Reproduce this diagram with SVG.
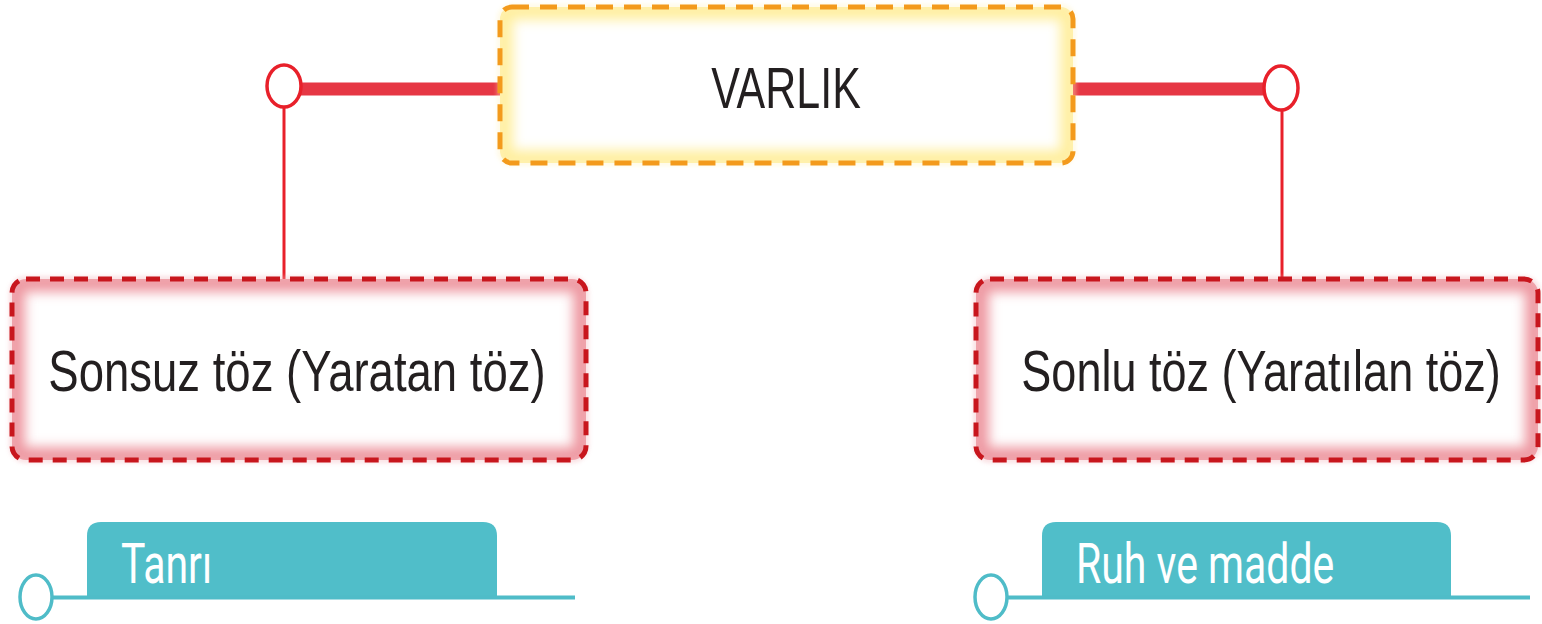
<svg xmlns="http://www.w3.org/2000/svg" width="1542" height="624" viewBox="0 0 1542 624">
  <style>
    .main-text { font-family: "Liberation Sans", Arial, sans-serif; fill: #231F20; }
    .tab-text { font-family: Roboto, "Noto Sans", sans-serif; fill: #FFFFFF; font-size: 41px; }
    .red-dash { fill: none; stroke: #C8161D; stroke-width: 5; stroke-dasharray: 14 10; }
    .orange-dash { fill: none; stroke: #F39A1C; stroke-width: 5; stroke-dasharray: 17 11; }
    .thick-bar { stroke: #E63744; stroke-width: 13; fill: none; }
    .thin-red { stroke: #E8202A; stroke-width: 3; fill: none; }
    .red-dot { fill: #FFFFFF; stroke: #E8202A; stroke-width: 3.5; }
    .teal-dot { fill: #FFFFFF; stroke: #4FBCC8; stroke-width: 3.5; }
    .teal-line { stroke: #4FBCC8; stroke-width: 4; fill: none; }
    .tab { fill: #50BEC9; }
  </style>
  <defs>
    <filter id="blur" x="-10%" y="-10%" width="120%" height="120%">
      <feGaussianBlur stdDeviation="6"/>
    </filter>
    <filter id="soft" x="-10%" y="-10%" width="120%" height="120%">
      <feGaussianBlur stdDeviation="2"/>
    </filter>
    <clipPath id="clipTop"><rect x="500" y="7" width="573" height="156" rx="12"/></clipPath>
    <clipPath id="clipLeft"><rect x="12" y="279" width="574" height="181" rx="14"/></clipPath>
    <clipPath id="clipRight"><rect x="976" y="279" width="562" height="181" rx="14"/></clipPath>
  </defs>

  <g id="connectors">
    <line class="thick-bar" x1="300" y1="89" x2="500" y2="89"/>
    <line class="thick-bar" x1="1073" y1="89" x2="1264" y2="89"/>
    <line class="thin-red" x1="284" y1="108" x2="284" y2="279"/>
    <line class="thin-red" x1="1282" y1="110" x2="1282" y2="279"/>
    <ellipse class="red-dot" cx="284" cy="86" rx="17" ry="21"/>
    <ellipse class="red-dot" cx="1281" cy="88" rx="17" ry="22"/>
  </g>

  <g id="node-varlik">
    <rect x="500" y="7" width="573" height="156" rx="12" fill="#FFFFFF"/>
    <g clip-path="url(#clipTop)">
      <rect x="500" y="7" width="573" height="156" rx="12" fill="none" stroke="#FFEFA0" stroke-width="26" filter="url(#blur)"/>
    </g>
    <rect x="500" y="7" width="573" height="156" rx="12" fill="none" stroke="#FFF2C0" stroke-width="6" opacity="0.4" filter="url(#soft)"/>
    <rect class="orange-dash" x="500" y="7" width="573" height="156" rx="12"/>
    <text class="main-text" font-size="43" text-anchor="middle" transform="translate(786 108) scale(1 1.32)">VARLIK</text>
  </g>

  <g id="node-sonsuz">
    <rect x="12" y="279" width="574" height="181" rx="14" fill="#FFFFFF"/>
    <g clip-path="url(#clipLeft)">
      <rect x="12" y="279" width="574" height="181" rx="14" fill="none" stroke="#EE9AA3" stroke-width="26" filter="url(#blur)"/>
    </g>
    <rect x="12" y="279" width="574" height="181" rx="14" fill="none" stroke="#F2B3BA" stroke-width="6" opacity="0.4" filter="url(#soft)"/>
    <rect class="red-dash" x="12" y="279" width="574" height="181" rx="14"/>
    <text class="main-text" font-size="45.5" text-anchor="middle" transform="translate(297 391) scale(1 1.28)">Sonsuz töz (Yaratan töz)</text>
  </g>

  <g id="node-sonlu">
    <rect x="976" y="279" width="562" height="181" rx="14" fill="#FFFFFF"/>
    <g clip-path="url(#clipRight)">
      <rect x="976" y="279" width="562" height="181" rx="14" fill="none" stroke="#EE9AA3" stroke-width="26" filter="url(#blur)"/>
    </g>
    <rect x="976" y="279" width="562" height="181" rx="14" fill="none" stroke="#F2B3BA" stroke-width="6" opacity="0.4" filter="url(#soft)"/>
    <rect class="red-dash" x="976" y="279" width="562" height="181" rx="14"/>
    <text class="main-text" font-size="45" text-anchor="middle" transform="translate(1261 391) scale(1 1.28)">Sonlu töz (Yaratılan töz)</text>
  </g>

  <g id="node-tanri">
    <path class="tab" d="M87 597 V536 Q87 522 101 522 H483 Q497 522 497 536 V597 Z"/>
    <line class="teal-line" x1="53" y1="597.5" x2="575" y2="597.5"/>
    <ellipse class="teal-dot" cx="36" cy="597" rx="16" ry="22"/>
    <text class="tab-text" transform="translate(121 583) scale(1 1.35)">Tanrı</text>
  </g>

  <g id="node-ruh">
    <path class="tab" d="M1042 597 V536 Q1042 522 1056 522 H1437 Q1451 522 1451 536 V597 Z"/>
    <line class="teal-line" x1="1008" y1="597.5" x2="1530" y2="597.5"/>
    <ellipse class="teal-dot" cx="991" cy="597" rx="16" ry="22"/>
    <text class="tab-text" transform="translate(1076 583) scale(1 1.35)">Ruh ve madde</text>
  </g>
</svg>
